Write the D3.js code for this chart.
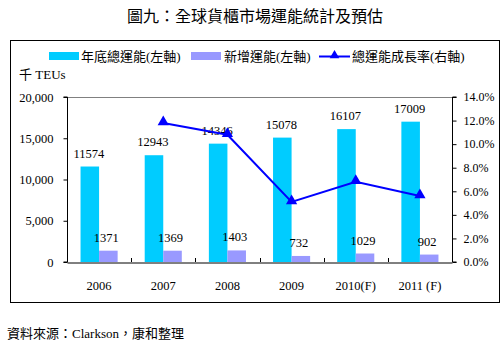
<!DOCTYPE html>
<html>
<head>
<meta charset="utf-8">
<script src="https://cdn.jsdelivr.net/npm/d3@7"></script>
<style>
body { margin: 0; background: #fff; }
text { font-family: "Liberation Serif", "Noto Sans CJK TC", serif; }
</style>
</head>
<body>
<div id="chart"></div>
<script>
let width = 503
let height = 345

// data
let years = ['2006', '2007', '2008', '2009', '2010(F)', '2011 (F)']
let totalCap = [11574, 12943, 14346, 15078, 16107, 17009]
let newCap = [1371, 1369, 1403, 732, 1029, 902]
let growth = [null, 11.8, 10.8, 5.1, 6.8, 5.6]
let leftTicks = [0, 5000, 10000, 15000, 20000]
let rightTicks = [0, 2, 4, 6, 8, 10, 12, 14]

let cyan = '#00ccff'
let purple = '#9999ff'
let blue = '#0000ff'

let svg = d3.select('#chart').append('svg')
    .attr('width', width)
    .attr('height', height)

// title
svg.append('text')
    .attr('x', 255).attr('y', 22)
    .attr('text-anchor', 'middle')
    .style('font-size', '16px')
    .text('圖九：全球貨櫃市場運能統計及預估')

// outer frame
svg.append('rect')
    .attr('x', 10.5).attr('y', 40.5)
    .attr('width', 489).attr('height', 262)
    .attr('fill', 'none').attr('stroke', '#000').attr('stroke-width', 1)

let plot = { left: 67, right: 452, top: 97, bottom: 262 }

let x0 = d3.scaleBand()
    .domain(years)
    .range([plot.left, plot.right])
    .padding(0)
let x1 = d3.scaleBand()
    .domain(['total', 'new'])
    .range([0, x0.bandwidth()])
    .paddingInner(0)
    .paddingOuter(0.73)
let y = d3.scaleLinear().domain([0, 20000]).range([plot.bottom, plot.top])
let y2 = d3.scaleLinear().domain([0, 14]).range([plot.bottom, plot.top])

// top border of plot area
svg.append('line')
    .attr('x1', plot.left).attr('x2', plot.right)
    .attr('y1', plot.top + 0.5).attr('y2', plot.top + 0.5)
    .attr('stroke', '#808080')

// bars
let groups = svg.append('g')
    .selectAll('g')
    .data(years)
    .join('g')
    .attr('transform', d => `translate(${x0(d)},0)`)

groups.append('rect')
    .attr('x', x1('total'))
    .attr('width', x1.bandwidth())
    .attr('y', (d, i) => y(totalCap[i]))
    .attr('height', (d, i) => y(0) - y(totalCap[i]))
    .attr('fill', cyan)

groups.append('rect')
    .attr('x', x1('new'))
    .attr('width', x1.bandwidth())
    .attr('y', (d, i) => y(newCap[i]))
    .attr('height', (d, i) => y(0) - y(newCap[i]))
    .attr('fill', purple)

groups.append('text')
    .attr('x', x1('total') + x1.bandwidth() / 2 - 1)
    .attr('y', (d, i) => y(totalCap[i]) - 9)
    .attr('text-anchor', 'middle')
    .style('font-size', '12.5px')
    .text((d, i) => totalCap[i])

groups.append('text')
    .attr('x', x1('new') + x1.bandwidth() / 2 - 2)
    .attr('y', (d, i) => y(newCap[i]) - 9)
    .attr('text-anchor', 'middle')
    .style('font-size', '12.5px')
    .text((d, i) => newCap[i])

// axes
let xAxis = svg.append('g')
    .attr('transform', `translate(0,${plot.bottom + 0.5})`)
    .call(d3.axisBottom(x0).tickSize(0).tickFormat(''))
xAxis.select('.domain').attr('stroke', '#000')
svg.append('g')
    .selectAll('line')
    .data(years.concat(['end']))
    .join('line')
    .attr('x1', (d, i) => Math.round(plot.left + i * x0.step()) + 0.5)
    .attr('x2', (d, i) => Math.round(plot.left + i * x0.step()) + 0.5)
    .attr('y1', plot.bottom).attr('y2', plot.bottom - 4)
    .attr('stroke', '#000')

svg.append('g')
    .selectAll('text')
    .data(years)
    .join('text')
    .attr('x', d => x0(d) + x0.bandwidth() / 2)
    .attr('y', 290)
    .attr('text-anchor', 'middle')
    .style('font-size', '12.5px')
    .text(d => d)

let yAxis = svg.append('g')
    .attr('transform', `translate(${plot.left + 0.5},0)`)
    .call(d3.axisLeft(y).tickValues(leftTicks).tickSize(4).tickPadding(10)
        .tickFormat(d3.format(',')))
yAxis.selectAll('text').style('font-size', '12.5px').attr('fill', '#000')
yAxis.select('.domain').attr('d', `M-4,${plot.bottom}H0V${plot.top}H-4`)

let y2Axis = svg.append('g')
    .attr('transform', `translate(${plot.right + 0.5},0)`)
    .call(d3.axisRight(y2).tickValues(rightTicks).tickSize(4).tickPadding(7)
        .tickFormat(d => d.toFixed(1) + '%'))
y2Axis.selectAll('text').style('font-size', '12px').attr('fill', '#000')
y2Axis.select('.domain').attr('d', `M4,${plot.bottom}H0V${plot.top}H4`)

// growth line
let pts = years.map((d, i) => [x0(d) + x0.bandwidth() / 2, growth[i]]).filter(p => p[1] != null)
svg.append('path')
    .datum(pts)
    .attr('fill', 'none')
    .attr('stroke', blue)
    .attr('stroke-width', 2)
    .attr('d', d3.line().x(p => p[0]).y(p => y2(p[1])))
svg.append('g')
    .selectAll('path')
    .data(pts)
    .join('path')
    .attr('transform', p => `translate(${p[0]},${y2(p[1]) - 1})`)
    .attr('d', d3.symbol(d3.symbolTriangle, 55))
    .attr('fill', blue)

// legend
let legend = svg.append('g')
legend.append('rect').attr('x', 49).attr('y', 52).attr('width', 30).attr('height', 8).attr('fill', cyan)
legend.append('text').attr('x', 81).attr('y', 61).style('font-size', '13px').text('年底總運能(左軸)')
legend.append('rect').attr('x', 191).attr('y', 52).attr('width', 30).attr('height', 8).attr('fill', purple)
legend.append('text').attr('x', 224).attr('y', 61).style('font-size', '13px').text('新增運能(左軸)')
legend.append('line').attr('x1', 319).attr('x2', 350).attr('y1', 56.5).attr('y2', 56.5)
    .attr('stroke', blue).attr('stroke-width', 2)
legend.append('path').attr('transform', 'translate(334.5,55.5)')
    .attr('d', d3.symbol(d3.symbolTriangle, 40)).attr('fill', blue)
legend.append('text').attr('x', 352).attr('y', 61).style('font-size', '13px').text('總運能成長率(右軸)')

svg.append('text')
    .attr('x', 19).attr('y', 79)
    .style('font-size', '13px')
    .text('千 TEUs')

// source
svg.append('text')
    .attr('x', 7).attr('y', 338)
    .style('font-size', '13px')
    .text('資料來源：Clarkson，康和整理')
</script>
</body>
</html>
